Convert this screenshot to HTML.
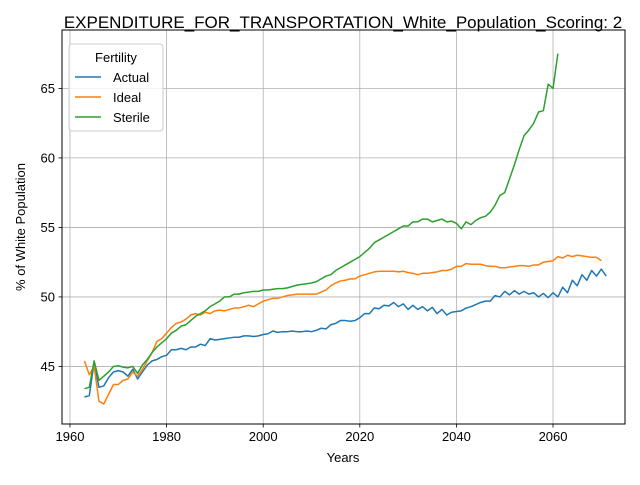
<!DOCTYPE html>
<html><head><meta charset="utf-8"><style>
body{margin:0;background:#fff;}
svg text{font-family:"Liberation Sans","DejaVu Sans",sans-serif;fill:#000;}
</style></head><body>
<svg id="chart" width="640" height="480" xmlns="http://www.w3.org/2000/svg">
<rect width="640" height="480" fill="#fff"/>
<g id="grid"></g>
<g id="lines"></g>
<rect x="62" y="30" width="563" height="394" fill="none" stroke="#000" stroke-width="1"/>
<g id="ticks"></g>
<text x="343" y="28" font-size="17" text-anchor="middle">EXPENDITURE_FOR_TRANSPORTATION_White_Population_Scoring: 2</text>
<text x="343" y="462" font-size="13" text-anchor="middle">Years</text>
<text transform="translate(25,227) rotate(-90)" font-size="13" text-anchor="middle">% of White Population</text>
<g>
<rect x="69" y="44" width="94" height="87" rx="3" fill="#fff" fill-opacity="0.8" stroke="#ccc"/>
<text x="116" y="62" font-size="13" text-anchor="middle">Fertility</text>
<g><line x1="75" x2="101" y1="77" y2="77" stroke="#1f77b4" stroke-width="1.5"/><text x="113" y="82" font-size="13">Actual</text></g>
<g><line x1="75" x2="101" y1="97" y2="97" stroke="#ff7f0e" stroke-width="1.5"/><text x="113" y="102" font-size="13">Ideal</text></g>
<g><line x1="75" x2="101" y1="117" y2="117" stroke="#2ca02c" stroke-width="1.5"/><text x="113" y="122" font-size="13">Sterile</text></g>
</g>
</svg>
<script>
const startYear = 1963;
const actual = [42.8,42.9,45.3,43.5,43.6,44.2,44.6,44.7,44.6,44.3,44.8,44.1,44.6,45.1,45.4,45.5,45.7,45.8,46.2,46.2,46.3,46.2,46.4,46.4,46.6,46.5,47.0,46.9,46.95,47.0,47.05,47.1,47.1,47.2,47.2,47.15,47.2,47.3,47.35,47.55,47.45,47.5,47.5,47.55,47.5,47.5,47.55,47.5,47.6,47.75,47.7,48.0,48.1,48.3,48.3,48.25,48.3,48.5,48.8,48.8,49.2,49.15,49.4,49.35,49.6,49.3,49.5,49.1,49.4,49.1,49.3,49.0,49.25,48.8,49.1,48.7,48.9,48.95,49.0,49.2,49.3,49.45,49.6,49.7,49.7,50.1,50.0,50.4,50.15,50.45,50.2,50.4,50.2,50.3,50.0,50.25,49.95,50.3,50.0,50.7,50.3,51.2,50.8,51.6,51.2,51.9,51.5,52.0,51.5];
const ideal = [45.4,44.4,45.0,42.5,42.3,43.0,43.7,43.7,44.0,44.1,44.6,44.3,44.8,45.4,46.0,46.8,47.0,47.4,47.8,48.1,48.2,48.4,48.7,48.8,48.7,48.9,48.8,49.0,49.05,49.0,49.1,49.2,49.2,49.3,49.4,49.3,49.5,49.7,49.8,49.9,49.9,50.0,50.1,50.15,50.2,50.2,50.2,50.2,50.2,50.35,50.5,50.8,51.0,51.15,51.2,51.3,51.3,51.5,51.6,51.7,51.8,51.85,51.85,51.85,51.85,51.8,51.85,51.75,51.7,51.6,51.7,51.7,51.75,51.8,51.9,51.9,52.0,52.2,52.2,52.4,52.35,52.35,52.35,52.25,52.2,52.2,52.1,52.1,52.15,52.2,52.25,52.25,52.2,52.3,52.3,52.5,52.55,52.6,52.9,52.8,53.0,52.9,53.0,52.95,52.9,52.85,52.85,52.6];
const sterile = [43.4,43.5,45.4,44.0,44.3,44.6,45.0,45.05,44.95,44.9,45.0,44.5,45.1,45.5,46.0,46.4,46.7,47.0,47.4,47.6,47.9,48.0,48.3,48.6,48.8,49.0,49.3,49.5,49.7,50.0,50.0,50.2,50.2,50.3,50.35,50.4,50.4,50.5,50.5,50.55,50.6,50.6,50.65,50.75,50.85,50.9,50.95,51.0,51.1,51.3,51.5,51.6,51.9,52.1,52.3,52.5,52.7,52.9,53.2,53.5,53.9,54.1,54.3,54.5,54.7,54.9,55.1,55.1,55.4,55.4,55.6,55.6,55.4,55.5,55.6,55.4,55.45,55.3,54.9,55.4,55.2,55.5,55.7,55.8,56.1,56.6,57.3,57.5,58.5,59.5,60.6,61.6,62.0,62.5,63.3,63.4,65.3,65.0,67.5];
const xTicks = [1960,1980,2000,2020,2040,2060];
const yTicks = [45,50,55,60,65];

const X0=62,X1=625,Y0=424,Y1=30, xMin=1958.35,xMax=2074.9, yMin=40.86,yMax=69.2;
function xs(v){return X0+(v-xMin)/(xMax-xMin)*(X1-X0);}
function ys(v){return Y0-(v-yMin)/(yMax-yMin)*(Y0-Y1);}
const NS="http://www.w3.org/2000/svg";
const grid=document.getElementById('grid'), ticks=document.getElementById('ticks'), lines=document.getElementById('lines');
function mk(tag,attrs,parent){const e=document.createElementNS(NS,tag);for(const k in attrs)e.setAttribute(k,attrs[k]);parent.appendChild(e);return e;}
xTicks.forEach(t=>{
  const x=xs(t);
  const g=mk('line',{x1:x,x2:x,y1:Y1,y2:Y0,stroke:'#b0b0b0','stroke-width':0.8},grid);
  
  
  const tk=mk('line',{x1:x,x2:x,y1:Y0,y2:Y0+3.5,stroke:'#000','stroke-width':0.8},ticks);
  
  
  const tx=mk('text',{x:x,y:Y0+17,'font-size':13,'text-anchor':'middle'},ticks);
  tx.textContent=t;
  
  
});
yTicks.forEach(t=>{
  const y=ys(t);
  const g=mk('line',{x1:X0,x2:X1,y1:y,y2:y,stroke:'#b0b0b0','stroke-width':0.8},grid);
  
  
  const tk=mk('line',{x1:X0-3.5,x2:X0,y1:y,y2:y,stroke:'#000','stroke-width':0.8},ticks);
  
  
  const tx=mk('text',{x:X0-7,y:y+4.5,'font-size':13,'text-anchor':'end'},ticks);
  tx.textContent=t;
  
  
});
[[actual,'#1f77b4','series-actual'],[ideal,'#ff7f0e','series-ideal'],[sterile,'#2ca02c','series-sterile']].forEach(([d,c,n])=>{
  const pts=d.map((v,i)=>xs(startYear+i).toFixed(2)+','+ys(v).toFixed(2)).join(' ');
  const p=mk('polyline',{points:pts,fill:'none',stroke:c,'stroke-width':1.5,'stroke-linejoin':'round'},lines);
  
  
});
</script>
</body></html>
